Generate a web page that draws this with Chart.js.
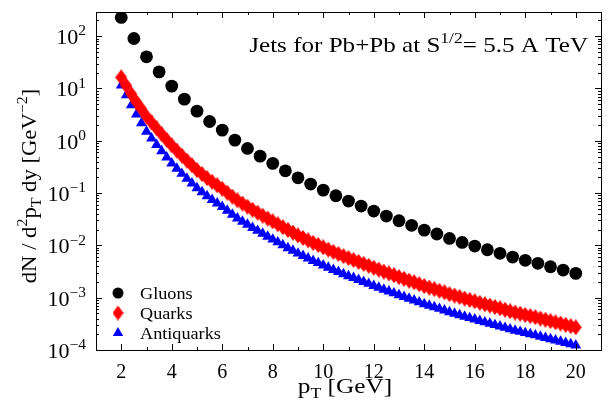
<!DOCTYPE html>
<html>
<head>
<meta charset="utf-8">
<script src="https://cdn.jsdelivr.net/npm/chart.js@4.4.0/dist/chart.umd.min.js"></script>
<style>
  html, body { margin: 0; padding: 0; background: #fff; }
</style>
</head>
<body>
<canvas id="c" width="608" height="407"></canvas>
<script>
// values
const gluonPt = [2, 2.5, 3, 3.5, 4, 4.5, 5, 5.5, 6, 6.5, 7, 7.5, 8, 8.5, 9, 9.5, 10, 10.5, 11, 11.5,
  12, 12.5, 13, 13.5, 14, 14.5, 15, 15.5, 16, 16.5, 17, 17.5, 18, 18.5, 19, 19.5, 20];
const gluons = [228, 90.4, 40.3, 20.8, 11.1, 6.26, 3.69, 2.34, 1.60, 1.03,
  0.714, 0.509, 0.370, 0.267, 0.196, 0.149, 0.114, 0.0889, 0.0703, 0.0565,
  0.0453, 0.0364, 0.0296, 0.0242, 0.0196, 0.0165, 0.0136, 0.0114, 0.0097, 0.00826,
  0.00705, 0.00598, 0.00518, 0.00454, 0.00391, 0.00338, 0.00292];

const quarkPt = [2, 2.2, 2.4, 2.6, 2.8, 3, 3.2, 3.4, 3.6, 3.8,
  4, 4.2, 4.4, 4.6, 4.8, 5, 5.2, 5.4, 5.6, 5.8,
  6, 6.2, 6.4, 6.6, 6.8, 7, 7.2, 7.4, 7.6, 7.8,
  8, 8.2, 8.4, 8.6, 8.8, 9, 9.2, 9.4, 9.6, 9.8,
  10, 10.2, 10.4, 10.6, 10.8, 11, 11.2, 11.4, 11.6, 11.8,
  12, 12.2, 12.4, 12.6, 12.8, 13, 13.2, 13.4, 13.6, 13.8,
  14, 14.2, 14.4, 14.6, 14.8, 15, 15.2, 15.4, 15.6, 15.8,
  16, 16.2, 16.4, 16.6, 16.8, 17, 17.2, 17.4, 17.6, 17.8,
  18, 18.2, 18.4, 18.6, 18.8, 19, 19.2, 19.4, 19.6, 19.8, 20];
const quarks = [16.3, 11.3, 7.80, 5.53, 4.03, 2.91, 2.24, 1.73, 1.34, 1.04,
  0.817, 0.649, 0.519, 0.418, 0.339, 0.275, 0.231, 0.193, 0.164, 0.141,
  0.121, 0.102, 0.0857, 0.0729, 0.0632, 0.0550, 0.0480, 0.0421, 0.0370, 0.0326,
  0.0288, 0.0254, 0.0223, 0.0197, 0.0175, 0.0155, 0.0139, 0.0125, 0.0112, 0.0102,
  0.00918, 0.00830, 0.00753, 0.00686, 0.00625, 0.00573, 0.00527, 0.00483, 0.00444, 0.00408,
  0.00374, 0.00344, 0.00316, 0.00291, 0.00269, 0.00248, 0.00230, 0.00212, 0.00197, 0.00181,
  0.00167, 0.00156, 0.00146, 0.00136, 0.00127, 0.00117, 0.00110, 0.00103, 0.000964, 0.000906,
  0.000853, 0.000798, 0.000750, 0.000708, 0.000664, 0.000627, 0.000589, 0.000551, 0.000521, 0.000494,
  0.000467, 0.000445, 0.000424, 0.000400, 0.000378, 0.000358, 0.000338, 0.000321, 0.000303, 0.000286,
  0.000272];
const antiquarks = [11.5, 7.44, 4.80, 3.19, 2.18, 1.50, 1.11, 0.837, 0.634, 0.482,
  0.370, 0.294, 0.235, 0.189, 0.154, 0.125, 0.105, 0.0874, 0.0743, 0.0639,
  0.0548, 0.0462, 0.0388, 0.0330, 0.0286, 0.0249, 0.0217, 0.0191, 0.0168, 0.0148,
  0.0130, 0.0115, 0.0101, 0.00892, 0.00793, 0.00702, 0.00630, 0.00566, 0.00507, 0.00462,
  0.00416, 0.00376, 0.00341, 0.00311, 0.00283, 0.00260, 0.00239, 0.00219, 0.00201, 0.00185,
  0.00169, 0.00156, 0.00143, 0.00132, 0.00122, 0.00112, 0.00104, 0.000960, 0.000892, 0.000820,
  0.000757, 0.000707, 0.000661, 0.000616, 0.000575, 0.000530, 0.000498, 0.000467, 0.000437, 0.000410,
  0.000386, 0.000361, 0.000340, 0.000321, 0.000301, 0.000284, 0.000267, 0.000250, 0.000236, 0.000224,
  0.000212, 0.000202, 0.000192, 0.000181, 0.000171, 0.000162, 0.000153, 0.000145, 0.000137, 0.000130,
  0.000123];

const xTickLabels = [2, 4, 6, 8, 10, 12, 14, 16, 18, 20];
const yTickExponents = [-4, -3, -2, -1, 0, 1, 2];

const FONT = "'Liberation Serif', 'DejaVu Serif', serif";

// diamond marker (taller than wide)
function makeDiamond(w, h, color) {
    const c = document.createElement('canvas');
    c.width = w; c.height = h;
    const g = c.getContext('2d');
    g.fillStyle = color;
    g.beginPath();
    g.moveTo(w / 2, 0);
    g.lineTo(w, h / 2);
    g.lineTo(w / 2, h);
    g.lineTo(0, h / 2);
    g.closePath();
    g.fill();
    return c;
}
const diamond = makeDiamond(12, 16, '#ff0000');
const diamondSmall = makeDiamond(11, 15, '#ff0000');

// text with superscripts / subscripts, stretched a bit to look like the LaTeX font
function richWidth(ctx, parts, size) {
    let w = 0;
    parts.forEach(p => {
        const s = p[1] === 'n' ? size : size * 0.7;
        ctx.font = s + 'px ' + FONT;
        w += ctx.measureText(p[0]).width;
    });
    return w;
}
function drawRich(ctx, parts, x, y, size, align, stretch) {
    stretch = stretch || 1;
    const w = richWidth(ctx, parts, size) * stretch;
    const x0 = align === 'right' ? x - w : align === 'center' ? x - w / 2 : x;
    ctx.save();
    ctx.translate(x0, y);
    ctx.scale(stretch, 1);
    ctx.textAlign = 'left';
    ctx.textBaseline = 'alphabetic';
    let cx = 0;
    parts.forEach(p => {
        const s = p[1] === 'n' ? size : size * 0.7;
        const off = p[1] === 'sup' ? -size * 0.42 : p[1] === 'sub' ? size * 0.22 : 0;
        ctx.font = s + 'px ' + FONT;
        ctx.fillText(p[0], cx, off);
        cx += ctx.measureText(p[0]).width;
    });
    ctx.restore();
}

const decorations = {
    id: 'decorations',
    afterDraw(chart) {
        const ctx = chart.ctx;
        const a = chart.chartArea;
        const xs = chart.scales.x, ys = chart.scales.y;
        ctx.save();
        ctx.strokeStyle = '#000';
        ctx.fillStyle = '#000';
        ctx.lineWidth = 1;

        // frame
        ctx.strokeRect(Math.round(a.left) + 0.5, Math.round(a.top) + 0.5,
            Math.round(a.right - a.left), Math.round(a.bottom - a.top));

        // inward ticks, mirrored on all sides
        ctx.beginPath();
        for (let v = 1; v <= 21; v++) {
            const px = Math.round(xs.getPixelForValue(v)) + 0.5;
            const len = v % 2 === 0 ? 6 : 3;
            ctx.moveTo(px, a.bottom); ctx.lineTo(px, a.bottom - len);
            ctx.moveTo(px, a.top); ctx.lineTo(px, a.top + len);
        }
        yTickExponents.forEach(e => {
            for (let k = 1; k <= 9; k++) {
                const v = k * Math.pow(10, e);
                if (v > ys.max) break;
                const py = Math.round(ys.getPixelForValue(v)) + 0.5;
                const len = k === 1 ? 6 : 3;
                ctx.moveTo(a.left, py); ctx.lineTo(a.left + len, py);
                ctx.moveTo(a.right, py); ctx.lineTo(a.right - len, py);
            }
        });
        ctx.stroke();

        // y tick labels 10^n
        yTickExponents.forEach(e => {
            const py = ys.getPixelForValue(Math.pow(10, e));
            const exp = e < 0 ? '\u2212' + Math.abs(e) : String(e);
            drawRich(ctx, [['10', 'n'], [exp, 'sup']], 86, py + 8, 21, 'right', 1.05);
        });

        // x title
        drawRich(ctx, [['p', 'n'], ['T', 'sub'], [' [GeV]', 'n']], 345, 393, 22, 'center', 1.15);

        // y title (rotated)
        ctx.save();
        ctx.translate(36, 186);
        ctx.rotate(-Math.PI / 2);
        drawRich(ctx, [['dN / d', 'n'], ['2', 'sup'], ['p', 'n'], ['T', 'sub'], [' dy [GeV', 'n'], ['\u22122', 'sup'], [']', 'n']], 0, 0, 21, 'center', 1.08);
        ctx.restore();

        // label inside the plot
        drawRich(ctx, [['Jets for Pb+Pb at S', 'n'], ['1/2', 'sup'], ['= 5.5 A TeV', 'n']], 588, 52, 22, 'right', 1.14);

        // legend
        const rows = [
            { t: 'Gluons', style: 'circle', r: 5.5, c: '#000000' },
            { t: 'Quarks', style: diamondSmall, r: 6, c: '#ff0000' },
            { t: 'Antiquarks', style: 'triangle', r: 6, c: '#0000ff' }
        ];
        rows.forEach((row, i) => {
            const y = 293 + i * 20;
            ctx.fillStyle = row.c;
            ctx.strokeStyle = row.c;
            Chart.helpers.drawPoint(ctx, { pointStyle: row.style, radius: row.r, borderWidth: 0, rotation: 0 }, 118, y);
            ctx.fillStyle = '#000';
            drawRich(ctx, [[row.t, 'n']], 140, y + 5.5, 17, 'left', 1.07);
        });
        ctx.restore();
    }
};

const ctx = document.getElementById('c').getContext('2d');
new Chart(ctx, {
    type: 'scatter',
    data: {
        datasets: [
            {
                label: 'Gluons',
                data: gluonPt.map((x, i) => ({ x: x, y: gluons[i] })),
                pointStyle: 'circle',
                pointRadius: 6.4,
                backgroundColor: '#000000',
                borderColor: '#000000',
                borderWidth: 0
            },
            {
                label: 'Quarks',
                data: quarkPt.map((x, i) => ({ x: x, y: quarks[i] })),
                pointStyle: diamond,
                pointRadius: 7,
                backgroundColor: '#ff0000',
                borderColor: '#ff0000',
                borderWidth: 0
            },
            {
                label: 'Antiquarks',
                data: quarkPt.map((x, i) => ({ x: x, y: antiquarks[i] })),
                pointStyle: 'triangle',
                pointRadius: 6.3,
                backgroundColor: '#0000ff',
                borderColor: '#0000ff',
                borderWidth: 0
            }
        ]
    },
    options: {
        responsive: false,
        animation: false,
        layout: { padding: { top: 12, right: 6, left: 0, bottom: 0 } },
        plugins: {
            legend: { display: false },
            tooltip: { enabled: false }
        },
        scales: {
            x: {
                type: 'linear',
                min: 1,
                max: 21,
                grid: { display: false },
                border: { display: false },
                ticks: {
                    color: '#000',
                    font: { family: FONT, size: 20 },
                    padding: 3,
                    maxRotation: 0,
                    autoSkip: false
                },
                afterBuildTicks: s => { s.ticks = xTickLabels.map(v => ({ value: v })); },
                afterFit: s => { s.height = 57; }
            },
            y: {
                type: 'logarithmic',
                min: 1e-4,
                max: 290,
                grid: { display: false },
                border: { display: false },
                ticks: { display: false },
                afterFit: s => { s.width = 96; }
            }
        }
    },
    plugins: [decorations]
});
</script>
</body>
</html>
